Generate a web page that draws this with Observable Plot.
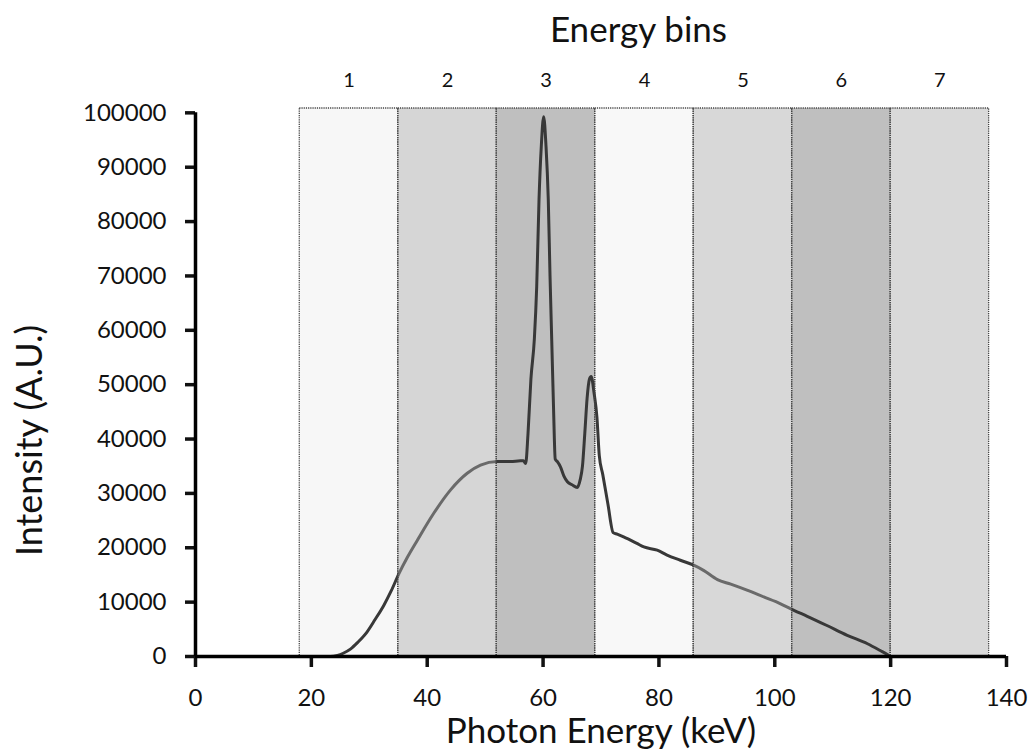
<!DOCTYPE html>
<html><head><meta charset="utf-8">
<script src="https://cdn.jsdelivr.net/npm/d3@7"></script>
<script src="https://cdn.jsdelivr.net/npm/@observablehq/plot@0.6"></script>
<style>body{margin:0;background:#fff;} #chart svg{display:block;}</style>
</head><body><div id="chart"></div>
<script>
// Spectrum (keV, intensity A.U.)
const energy = [20, 23.3, 24.5, 25.5, 26.8, 28, 29.6, 31, 32.5, 33.8, 35.1, 36.6, 38.3, 41.1, 44, 46.9, 49.2, 52.1, 54.4, 56.1, 56.6, 57.0,
  57.4, 57.9, 58.5, 58.9, 59.3, 59.7, 60.1, 60.5, 60.9, 61.2, 61.5, 61.8, 62.1, 62.5, 63.0, 63.6, 64.2, 65.0, 65.9,
  66.4, 66.8, 67.2, 67.6, 68.0, 68.3, 68.8, 69.3, 69.7, 70.3, 71.2, 72.1, 72.8, 73.9, 76.2, 77.4, 79.7, 81.4, 83.7,
  86.0, 87.7, 90.1, 92.4, 95.2, 98.1, 101.0, 103.3, 105.6, 109.0, 112.5, 116.0, 118.2, 119.7, 120];
const intensity = [0, 0, 200, 600, 1400, 2600, 4500, 6800, 9400, 12100, 15200, 18300, 21400, 26300, 30600, 33700, 35200, 35850, 35850, 36000, 36000, 35500,
  41000, 51000, 58500, 68000, 84000, 94000, 99300, 94000, 84000, 70000, 58000, 46000, 36300, 35800, 34900, 33200, 32150, 31600, 31100,
  32500, 35000, 41000, 47500, 51000, 51500, 48500, 44000, 37000, 33500, 28000, 22800, 22500, 22000, 20800, 20150, 19550, 18650, 17700,
  16800, 15850, 14150, 13300, 12200, 10950, 9700, 8500, 7400, 5700, 3900, 2350, 1100, 200, 0];

// Energy bins
const binEdges = [18, 35, 52, 69, 86, 103, 120, 137];
const binLabels = ["1", "2", "3", "4", "5", "6", "7"];

// Axes
const xTicks = [0, 20, 40, 60, 80, 100, 120, 140];
const yTicks = [0, 10000, 20000, 30000, 40000, 50000, 60000, 70000, 80000, 90000, 100000];
const yTop = 100800;

// Styles (kept separate from data)
const binFills = ["#f7f7f7", "#c8c8c8", "#bfbfbf", "#f8f8f8", "#cbcbcb", "#bfbfbf", "#cccccc"];
const binVeil = [false, true, false, false, true, false, true];

const spectrum = energy.map((e, i) => ({energy: e, intensity: intensity[i]}));
const bins = binLabels.map((label, i) => ({
  label, lo: binEdges[i], hi: binEdges[i + 1], mid: (binEdges[i] + binEdges[i + 1]) / 2,
  fill: binFills[i], veil: binVeil[i]
}));

const chart = Plot.plot({
  width: 1033,
  height: 754,
  marginLeft: 195,
  marginRight: 27,
  marginTop: 108,
  marginBottom: 98,
  style: {fontFamily: "Lato, 'Open Sans', sans-serif", color: "#111", background: "#fff"},
  x: {domain: [xTicks[0], xTicks[xTicks.length - 1]], axis: null},
  y: {domain: [0, yTop], axis: null},
  marks: [
    Plot.rect(bins, {x1: "lo", x2: "hi", fill: "fill"}),
    Plot.line(spectrum, {x: "energy", y: "intensity", stroke: "#383838", strokeWidth: 3, curve: "monotone-x"}),
    Plot.rect(bins.filter(d => d.veil), {x1: "lo", x2: "hi", fill: "white", fillOpacity: 0.25}),
    Plot.rect(bins, {x1: "lo", x2: "hi", fill: "none", stroke: "#444", strokeWidth: 1.3, strokeDasharray: "1.2,1"}),
    Plot.text(bins, {x: "mid", text: "label", frameAnchor: "top", lineAnchor: "middle", dy: -28, fontSize: 20, fill: "#111"}),
    Plot.text(["Energy bins"], {x: d3.mean([binEdges[0], binEdges[binEdges.length - 1]]), frameAnchor: "top", lineAnchor: "middle", dy: -78, dx: -6, fontSize: 35, fill: "#111"}),
    Plot.axisX({ticks: xTicks, tickSize: 11, tickPadding: 21, fontSize: 24, strokeWidth: 3.5, label: null, tickFormat: d3.format("d")}),
    Plot.axisY({ticks: yTicks, tickSize: 10, tickPadding: 19, fontSize: 24, strokeWidth: 3.5, label: null, tickFormat: d3.format("d")}),
    Plot.ruleY([0], {x1: xTicks[0], x2: xTicks[xTicks.length - 1], stroke: "#000", strokeWidth: 3.5}),
    Plot.ruleX([0], {y1: 0, y2: yTicks[yTicks.length - 1], stroke: "#000", strokeWidth: 3.5}),
    Plot.text(["Photon Energy (keV)"], {frameAnchor: "bottom", lineAnchor: "middle", dy: 75, fontSize: 35, fill: "#111"}),
    Plot.text(["Intensity (A.U.)"], {frameAnchor: "left", textAnchor: "middle", lineAnchor: "middle", rotate: -90, dx: -165, dy: 58, fontSize: 36, fill: "#111"})
  ]
});
document.getElementById("chart").appendChild(chart);
</script>
</body></html>
